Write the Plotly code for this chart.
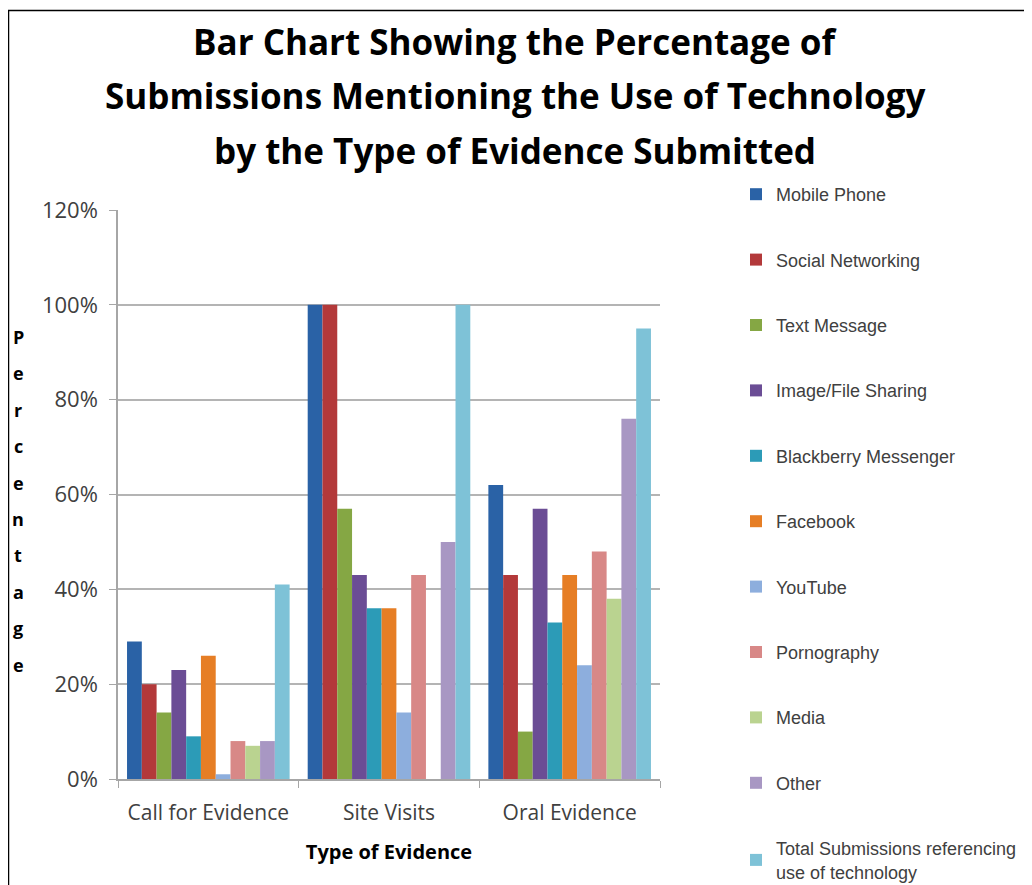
import plotly.graph_objects as go

categories = ["Call for Evidence", "Site Visits", "Oral Evidence"]
series_names = [
    "Mobile Phone", "Social Networking", "Text Message", "Image/File Sharing",
    "Blackberry Messenger", "Facebook", "YouTube", "Pornography", "Media", "Other",
    "Total Submissions referencing<br>use of technology",
]
mobile_phone = [29, 100, 62]
social_networking = [20, 100, 43]
text_message = [14, 57, 10]
image_file_sharing = [23, 43, 57]
blackberry_messenger = [9, 36, 33]
facebook = [26, 36, 43]
youtube = [1, 14, 24]
pornography = [8, 43, 48]
media = [7, 0, 38]
other = [8, 50, 76]
total_tech = [41, 100, 95]
series_values = [mobile_phone, social_networking, text_message, image_file_sharing,
                 blackberry_messenger, facebook, youtube, pornography, media, other, total_tech]
colors = ["#2A62A6", "#B3393A", "#85A744", "#6B4D95", "#2C9BB7", "#E67E25",
          "#8DAEDD", "#D88887", "#BAD390", "#A897C3", "#7EC2D7"]
ytick_vals = [0, 20, 40, 60, 80, 100, 120]
ytick_text = ["0%", "20%", "40%", "60%", "80%", "100%", "120%"]
title_lines = ["Bar Chart Showing the Percentage of",
               "Submissions Mentioning the Use of Technology",
               "by the Type of Evidence Submitted"]
y_title = "Percentage"

fig = go.Figure()
for i, (name, vals, c) in enumerate(zip(series_names, series_values, colors)):
    fig.add_trace(go.Bar(x=categories, y=vals, name=name, marker_color=c,
                         marker_line_width=0, legendgroup=f"g{i}"))

# figure sits at an 8px page offset (body margin)
W, H = 1024, 877
L, R, T, B = 110, 652, 202, 771
PW, PH = R - L, B - T

def px(x):
    return (x - L) / PW

def py(y):
    return (B - y) / PH

fig.update_layout(
    width=W, height=H,
    margin=dict(l=L, r=W - R, t=T, b=H - B, autoexpand=False),
    paper_bgcolor="white", plot_bgcolor="white",
    barmode="group", bargap=0.1, bargroupgap=0,
    font=dict(family="Open Sans", color="#404040"),
    legend=dict(
        x=px(728), xanchor="left", yref="container", y=1 - 168 / H, yanchor="top",
        font=dict(family="Liberation Sans", size=18, color="#404040"),
        tracegroupgap=39, itemwidth=30, bgcolor="rgba(0,0,0,0)",
        maxheight=1.0,
    ),
    showlegend=True,
)
for txt, yc in zip(title_lines, [34, 87, 142]):
    fig.add_annotation(text=f"<b>{txt}</b>", xref="paper", yref="paper",
                       x=px(507), y=py(yc), xanchor="center", yanchor="middle",
                       showarrow=False,
                       font=dict(family="Open Sans", size=35, color="black"))
fig.update_xaxes(
    showline=True, linecolor="#A6A6A6", linewidth=1.5,
    ticks="outside", tickson="boundaries", ticklen=7, tickcolor="#A6A6A6",
    ticklabelstandoff=14,
    tickfont=dict(family="Open Sans", size=21, color="#404040"),
    title=dict(text="<b>Type of Evidence</b>", font=dict(family="Open Sans", size=20, color="black"), standoff=20),
)
fig.update_yaxes(
    range=[0, 120], tickvals=ytick_vals, ticktext=ytick_text,
    showline=True, linecolor="#A6A6A6", linewidth=1.5,
    showgrid=True, gridcolor="#B4B4B4", gridwidth=1.5,
    ticks="outside", ticklen=7, tickcolor="#A6A6A6",
    ticklabelstandoff=7,
    tickfont=dict(family="Open Sans", size=22, color="#404040"),
    zeroline=False,
)
letter_top, letter_step = 329, 36.4
for k, ch in enumerate(y_title):
    fig.add_annotation(
        text=f"<b>{ch}</b>", xref="paper", yref="paper",
        x=px(10), y=py(letter_top + k * letter_step),
        xanchor="center", yanchor="middle", showarrow=False,
        font=dict(family="Open Sans", size=18, color="black"),
    )
fig.add_shape(type="rect", xref="paper", yref="paper",
              x0=px(0.5), x1=px(1023.5), y0=py(2.5), y1=py(900),
              line=dict(color="black", width=1.5), layer="below")
fig.write_html("out.html")
